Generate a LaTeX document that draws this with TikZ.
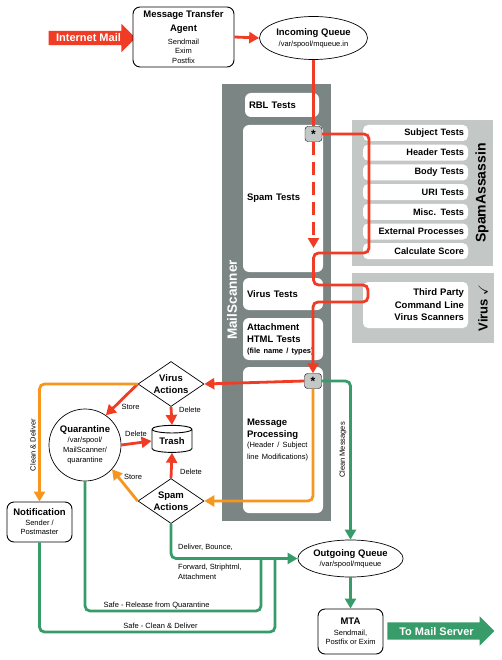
\documentclass[tikz,border=0pt]{standalone}
\usepackage{fontspec}
\usepackage{amssymb}
\setmainfont{Liberation Sans}
\usetikzlibrary{arrows.meta,shapes.geometric,shapes.arrows}
\definecolor{msred}{HTML}{F03C24}
\definecolor{msorange}{HTML}{F7961F}
\definecolor{msgreen}{HTML}{389B6A}
\definecolor{msdark}{HTML}{7B8583}
\definecolor{mslight}{HTML}{C3C7C5}
\newcommand\ntitle[1]{{\fontsize{9.5}{11.5}\selectfont\bfseries #1}}
\tikzset{box/.style={draw,line width=0.9pt,rounded corners=7pt,fill=white,align=center,inner sep=1pt,
		font=\fontsize{7.5}{9.5}\selectfont},
	tbox/.style={fill=white,rounded corners=6pt,inner xsep=4pt,inner ysep=0pt,align=left,
		text width=72pt,minimum height=#1,font=\fontsize{9.5}{12}\selectfont\bfseries},
	sarow/.style={fill=white,rounded corners=5pt,minimum height=16pt,text width=97pt,inner xsep=4pt,
		inner ysep=0pt,align=right,font=\fontsize{9.2}{11}\selectfont\bfseries},
	star/.style={draw,fill=mslight,rounded corners=3pt,minimum width=17pt,minimum height=15pt,
		inner sep=0pt,font=\bfseries\fontsize{12}{12}\selectfont},
	action/.style={diamond,aspect=1.5,draw,fill=white,line width=0.7pt,inner sep=0pt,minimum width=66pt,
		minimum height=45pt,align=center,font=\fontsize{9.5}{12.5}\selectfont\bfseries},
	bigarrow/.style={single arrow,text=white,font=\fontsize{11}{11}\selectfont\bfseries,
		text height=8pt,text depth=0pt,inner ysep=3pt,single arrow head extend=7pt},
	lbl/.style={font=\fontsize{7.5}{9.5}\selectfont,inner sep=1pt},
	tip/.style={-{Triangle[length=10pt,width=11pt]}},
	redline/.style={draw=msred,line width=2.8pt},
	orangeline/.style={draw=msorange,line width=2.8pt},
	greenline/.style={draw=msgreen,line width=2.8pt}}
\begin{document}
\begin{tikzpicture}[x=1pt,y=-1pt]
\useasboundingbox (0,0) rectangle (501,660);
\node[bigarrow,fill=msred,minimum height=87pt] (inmail) at (88.5,38) {Internet Mail};
\node[box,minimum width=101pt,minimum height=60pt] (mta) at (183.5,37)
  {\ntitle{Message Transfer}\\[4.5pt]\ntitle{Agent}\\[3.5pt]Sendmail\\Exim\\Postfix};
\node[ellipse,draw,line width=0.7pt,inner sep=0pt,minimum width=108pt,minimum height=43pt,
  align=center,font=\fontsize{7.5}{9.5}\selectfont] (inq) at (313.5,38)
  {\ntitle{Incoming Queue}\\[1.5pt]/var/spool/mqueue.in};
\node[fill=msdark,minimum width=109pt,minimum height=437pt,inner sep=0pt] (scanner) at (276.5,302.5) {};
\node[rotate=90,text=white,font=\fontsize{13.5}{14}\selectfont\bfseries] (scanlbl) at (232,300) {MailScanner};
\node[tbox=24pt,text width=66pt] (rbl) at (282,105) {RBL Tests};
\node[tbox=147pt] (spam) at (283,198.5) {Spam Tests};
\node[tbox=32pt] (virus) at (283,294) {Virus Tests};
\node[tbox=42pt] (attach) at (283,339)
  {Attachment\\HTML Tests\\[-1pt]{\fontsize{7.5}{9}\selectfont (file name / types)}};
\node[tbox=146pt] (proc) at (283,440)
  {Message\\Processing\\[-1pt]{\fontsize{7.5}{10.5}\selectfont\mdseries (Header / Subject\\line Modifications)}};
\node[fill=mslight,minimum width=141pt,minimum height=146pt,inner sep=0pt] (sapanel) at (422.5,193) {};
\foreach \t [count=\i] in {Subject Tests,Header Tests,Body Tests,URI Tests,Misc. Tests,External Processes,Calculate Score}
  \node[sarow] (sa\i) at (415.5,{113.3+19.7*\i}) {\t};
\node[rotate=90,font=\fontsize{14}{14}\selectfont\bfseries] (salbl) at (482,193) {SpamAssassin};
\node[fill=mslight,minimum width=142pt,minimum height=70pt,inner sep=0pt] (vspanel) at (423,308) {};
\node[sarow,minimum height=46pt,font=\fontsize{9.5}{12.5}\selectfont\bfseries] (scanners) at (415.5,305)
  {Third Party\\Command Line\\Virus Scanners};
\node[rotate=90,font=\fontsize{13}{13}\selectfont\bfseries] (vslbl) at (483,308) {Virus $\checkmark$};
\node[action] (vact) at (171,384) {Virus\\Actions};
\node[action] (sact) at (171,501) {Spam\\Actions};
\node[cylinder,shape border rotate=90,aspect=0.3,draw,line width=0.9pt,fill=white,minimum width=40pt,
  minimum height=27pt,inner sep=0pt,font=\fontsize{9.5}{11}\selectfont\bfseries] (trash) at (172,441) {Trash};
\node[circle,draw,line width=0.7pt,minimum size=72pt,inner sep=0pt,align=center,
  font=\fontsize{7.5}{10}\selectfont] (quar) at (85,445)
  {\ntitle{Quarantine}\\/var/spool/\\MailScanner/\\quarantine};
\node[box,minimum width=65pt,minimum height=40pt] (notif) at (39.5,522)
  {\ntitle{Notification}\\Sender /\\Postmaster};
\node[ellipse,draw,line width=0.7pt,inner sep=0pt,minimum width=105pt,minimum height=37pt,
  align=center,font=\fontsize{7.5}{9.5}\selectfont] (outq) at (350.5,558.5)
  {\ntitle{Outgoing Queue}\\[0.5pt]/var/spool/mqueue};
\node[box,minimum width=65pt,minimum height=45pt] (mta2) at (350.5,631.5)
  {\ntitle{MTA}\\[1pt]Sendmail,\\Postfix or Exim};
\node[bigarrow,fill=msgreen,minimum height=107pt,text height=9pt,inner ysep=4pt,
  single arrow head extend=6pt] (outmail) at (436.5,631) {To Mail Server};
\coordinate (spamend) at (313.5,248);
\coordinate (j1) at (261,558.5);
\coordinate (j2) at (275,558.5);
\node[star] (star1) at (313.5,134) {*};
\node[star] (star2) at (313,381) {*};
\draw[redline,tip] (mta.east) -- (inq.west);
\draw[redline] (inq.south) -- (star1.north);
\draw[redline,tip,rounded corners=5pt] (star1.east) -- (369,134) -- (369,253) -- (313.5,253) -- (313.5,285)
  -- (368,285) -- (368,302) -- (313,302) -- (star2.north);
\draw[redline,dash pattern=on 13pt off 7pt,tip] (star1.south) -- (spamend);
\draw[redline,tip] (star2.west) -- (vact.east);
\draw[redline,tip] (vact.south) -- (trash.north);
\draw[redline,tip] (vact.west) -- (quar.55);
\draw[redline,tip] (quar.east) -- (trash.west);
\draw[redline,tip] (sact.north) -- (trash.south);
\draw[orangeline,tip,rounded corners=5pt] (star2.south) |- (sact.east);
\draw[orangeline,tip] (sact.west) -- (quar.-42);
\draw[orangeline,tip,rounded corners=5pt] (vact.west) -| (notif.north);
\draw[greenline,tip,rounded corners=5pt] (star2.east) -| (outq.north);
\draw[greenline,tip,rounded corners=5pt] (sact.south) |- (outq.west);
\draw[greenline,rounded corners=5pt] (quar.south) |- (261,611) -- (j1);
\draw[greenline,rounded corners=5pt] (notif.south) |- (275,632) -- (j2);
\draw[greenline,tip] (outq.south) -- (mta2.north);
\node[lbl] (vdel) at (190,410) {Delete};
\node[lbl] (vstore) at (130.5,407) {Store};
\node[lbl] (qdel) at (136,434) {Delete};
\node[lbl] (sdel) at (191,472) {Delete};
\node[lbl] (sstore) at (133,477) {Store};
\node[lbl,rotate=90] (cdlbl) at (33,445) {Clean \& Deliver};
\node[lbl,rotate=90] (cmlbl) at (343,450) {Clean Messages};
\node[lbl,anchor=west] (dlv) at (177,547) {Deliver, Bounce,};
\node[lbl,anchor=north west,align=left] (fwd) at (177,563) {Forward, Striphtml,\\Attachment};
\node[lbl] (relq) at (156.5,605) {Safe - Release from Quarantine};
\node[lbl] (safecd) at (160.5,626) {Safe - Clean \& Deliver};
\end{tikzpicture}
\end{document}
